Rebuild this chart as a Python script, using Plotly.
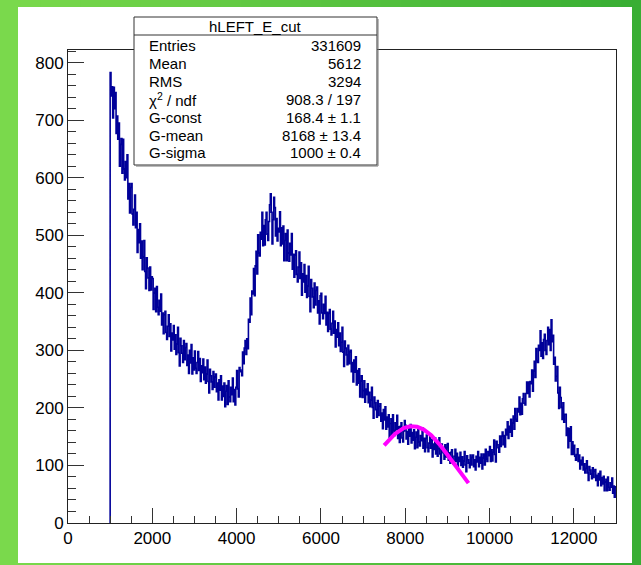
import plotly.graph_objects as go
import math

# ---------------- data ----------------
hist_name = "hLEFT_E_cut"
bin_start = 1000
bin_width = 20
x_range = [0, 13000]
y_range = [0, 822]

counts = [
    # 1000-1980
    783, 742, 758, 704, 757, 720, 748, 677, 707, 667, 695, 620, 658, 668, 608, 667, 615, 596, 628, 600,
    640, 563, 590, 539, 583, 590, 537, 518, 545, 570, 513, 540, 470, 510, 487, 520, 460, 490, 440, 462,
    491, 437, 407, 461, 443, 426, 404, 445, 405, 428,
    # 2000-2980
    425, 371, 400, 408, 367, 411, 375, 362, 387, 368, 398, 344, 365, 329, 362, 368, 331, 319, 342, 362,
    324, 346, 299, 330, 318, 343, 302, 327, 293, 311, 340, 296, 273, 321, 308, 295, 279, 317, 284, 305,
    312, 274, 292, 260, 300, 278, 310, 259, 287, 266,
    # 3000-3980
    299, 269, 260, 279, 298, 265, 286, 246, 273, 261, 285, 249, 271, 243, 259, 283, 246, 226, 267, 256,
    245, 232, 263, 236, 254, 259, 228, 243, 214, 249, 231, 256, 214, 238, 220, 243, 202, 229, 239, 206,
    247, 219, 211, 236, 223, 252, 211, 232, 205, 236,
    # 4000-4980
    265, 233, 219, 270, 266, 263, 256, 297, 277, 304, 317, 293, 320, 303, 354, 349, 391, 362, 403, 398,
    442, 395, 447, 472, 433, 501, 469, 464, 505, 493, 540, 482, 517, 483, 527, 540, 502, 491, 524, 553,
    572, 540, 485, 527, 566, 548, 499, 529, 490, 512,
    # 5000-5980
    506, 541, 482, 513, 485, 516, 456, 491, 503, 456, 509, 469, 455, 486, 466, 503, 441, 467, 427, 466,
    473, 432, 419, 445, 471, 425, 452, 396, 433, 419, 449, 401, 430, 392, 412, 446, 394, 367, 423, 408,
    393, 374, 417, 379, 404, 410, 365, 386, 346, 395,
    # 6000-6980
    399, 365, 355, 380, 364, 394, 344, 366, 333, 364, 371, 337, 327, 347, 368, 330, 351, 306, 336, 323,
    348, 308, 330, 298, 314, 340, 297, 272, 316, 304, 292, 275, 309, 277, 297, 300, 263, 279, 245, 283,
    262, 289, 240, 265, 243, 268, 219, 247, 256, 218,
    # 7000-7980
    230, 247, 210, 233, 223, 242, 209, 227, 202, 214, 236, 201, 182, 219, 209, 197, 184, 213, 187, 203,
    207, 177, 191, 164, 197, 179, 202, 163, 184, 167, 188, 149, 173, 181, 151, 188, 161, 152, 174, 162,
    187, 147, 167, 140, 168, 174, 148, 141, 160, 178,
    # 8000-8980
    170, 146, 159, 137, 165, 151, 171, 139, 157, 144, 162, 129, 149, 158, 131, 164, 141, 134, 152, 143,
    165, 130, 147, 124, 147, 153, 131, 124, 139, 155, 130, 145, 115, 137, 128, 148, 120, 137, 116, 129,
    148, 120, 104, 137, 129, 122, 111, 136, 115, 131,
    # 9000-9980
    138, 109, 122, 104, 123, 127, 108, 102, 116, 128, 107, 121, 95, 114, 107, 123, 100, 115, 97, 108,
    124, 101, 89, 117, 110, 104, 96, 118, 101, 114, 118, 98, 110, 92, 116, 106, 124, 98, 114, 104,
    120, 94, 113, 120, 101, 128, 111, 107, 124, 117,
    # 10000-10980
    133, 107, 127, 108, 123, 144, 119, 106, 142, 136, 131, 123, 151, 133, 151, 158, 136, 152, 132, 163,
    153, 176, 147, 168, 158, 180, 151, 174, 186, 163, 199, 180, 177, 199, 193, 219, 188, 208, 189, 216,
    225, 208, 205, 225, 245, 225, 245, 219, 246, 242,
    # 11000-11980
    266, 229, 264, 281, 253, 303, 282, 279, 309, 300, 334, 290, 313, 286, 319, 328, 300, 293, 317, 340,
    310, 336, 300, 353, 315, 326, 276, 288, 247, 255, 272, 226, 199, 236, 218, 201, 180, 209, 175, 189,
    189, 152, 165, 131, 164, 142, 167, 119, 141, 119,
    # 12000-12980
    135, 116, 109, 119, 129, 107, 118, 94, 109, 101, 114, 92, 103, 87, 95, 108, 87, 74, 98, 92,
    85, 77, 96, 79, 90, 93, 74, 83, 65, 86, 75, 90, 65, 79, 68, 81, 56, 71, 76, 56,
    80, 62, 57, 70, 62, 78, 52, 64, 45, 63,
]

# fit result (Gaussian) shown in the stats box
fit_const = 168.4
fit_mean = 8168
fit_sigma = 1000
fit_range = [7500, 9500]

stat_labels = ["Entries", "Mean", "RMS", "χ<sup>2</sup> / ndf", "G-const", "G-mean", "G-sigma"]
stat_values = ["331609", "5612", "3294", "908.3 / 197", "168.4 ± 1.1", "8168 ± 13.4", "1000 ± 0.4"]

# ---------------- geometry ----------------
W, H = 641, 565
L, R, T, B = 68, 616, 50, 523          # plot frame in pixels
PW, PH = R - L, B - T


def px(xp):
    return (xp - L) / PW


def py(yp):
    return (B - yp) / PH


FONT = "Liberation Sans, Arial, Helvetica, sans-serif"

# histogram step line
hx = [bin_start] + [bin_start + i * bin_width for i in range(len(counts))] + [bin_start + len(counts) * bin_width]
hy = [0] + counts + [counts[-1]]

# fit curve
n_fit = 200
fx = [fit_range[0] + (fit_range[1] - fit_range[0]) * i / n_fit for i in range(n_fit + 1)]
fy = [fit_const * math.exp(-0.5 * ((v - fit_mean) / fit_sigma) ** 2) for v in fx]

fig = go.Figure()
fig.add_trace(go.Scatter(x=hx, y=hy, mode="lines", line=dict(color="#000099", width=1.6, shape="hv"),
                         hoverinfo="skip", showlegend=False))
fig.add_trace(go.Scatter(x=fx, y=fy, mode="lines", line=dict(color="#ff00ff", width=4),
                         hoverinfo="skip", showlegend=False))

shapes = []
# green gradient background (strips)
n_strips = 32
c0 = (0x7a, 0xd9, 0x4c)
c1 = (0x38, 0xae, 0x33)
for i in range(n_strips):
    t = i / (n_strips - 1)
    col = "rgb(%d,%d,%d)" % tuple(round(a + (b - a) * t) for a, b in zip(c0, c1))
    x0 = i * W / n_strips
    x1 = (i + 1) * W / n_strips + 1
    shapes.append(dict(type="rect", xref="paper", yref="paper", x0=px(x0), x1=px(x1), y0=py(H), y1=py(0),
                       fillcolor=col, line=dict(width=0), layer="below"))
# white canvas
shapes.append(dict(type="rect", xref="paper", yref="paper", x0=px(18), x1=px(632), y0=py(563), y1=py(7),
                   fillcolor="white", line=dict(width=0), layer="below"))

# stats box
bx0, bx1, by0, by1, bsep = 134, 377, 17, 165, 35
shapes.append(dict(type="rect", xref="paper", yref="paper", x0=px(bx0), x1=px(bx1), y0=py(by1), y1=py(by0),
                   fillcolor="white", line=dict(color="#333333", width=1), layer="above"))
shapes.append(dict(type="line", xref="paper", yref="paper", x0=px(bx0), x1=px(bx1), y0=py(bsep), y1=py(bsep),
                   line=dict(color="#333333", width=1), layer="above"))
shapes.append(dict(type="line", xref="paper", yref="paper", x0=px(bx1 + 1), x1=px(bx1 + 1), y0=py(by1 + 1), y1=py(by0 + 2),
                   line=dict(color="#777777", width=1), layer="above"))
shapes.append(dict(type="line", xref="paper", yref="paper", x0=px(bx0 + 2), x1=px(bx1 + 1), y0=py(by1 + 1), y1=py(by1 + 1),
                   line=dict(color="#777777", width=1), layer="above"))

annotations = [dict(text=hist_name, xref="paper", yref="paper", x=px((bx0 + bx1) / 2), y=py((by0 + bsep) / 2),
                    xanchor="center", yanchor="middle", showarrow=False, font=dict(family=FONT, size=15, color="black"))]
row_y0, row_dy = 45.5, 17.9
for i, (lab, val) in enumerate(zip(stat_labels, stat_values)):
    yy = py(row_y0 + i * row_dy)
    annotations.append(dict(text=lab, xref="paper", yref="paper", x=px(147), y=yy, xanchor="left", yanchor="middle",
                            showarrow=False, font=dict(family=FONT, size=15, color="black")))
    annotations.append(dict(text=val, xref="paper", yref="paper", x=px(363), y=yy, xanchor="right", yanchor="middle",
                            showarrow=False, font=dict(family=FONT, size=15, color="black")))

axis_common = dict(showgrid=False, zeroline=False, showline=True, linecolor="#222222", linewidth=1, mirror=True,
                   ticks="inside", tickcolor="#333333", tickwidth=1, tickformat="d",
                   tickfont=dict(family=FONT, size=17, color="black"))

fig.update_layout(
    width=W, height=H, autosize=False,
    margin=dict(l=L, r=W - R, t=T, b=H - B, pad=0),
    paper_bgcolor="#5cc63d", plot_bgcolor="white",
    shapes=shapes, annotations=annotations, showlegend=False,
    xaxis=dict(range=x_range, dtick=2000, tick0=0, ticklen=15,
               minor=dict(ticks="inside", dtick=500, ticklen=7, tickcolor="#333333"), **axis_common),
    yaxis=dict(range=y_range, dtick=100, tick0=0, ticklen=16,
               minor=dict(ticks="inside", dtick=20, ticklen=8, tickcolor="#333333"), **axis_common),
)

fig.write_html("out.html", config={"displayModeBar": False},
               post_script="document.body.style.margin='0px';")
